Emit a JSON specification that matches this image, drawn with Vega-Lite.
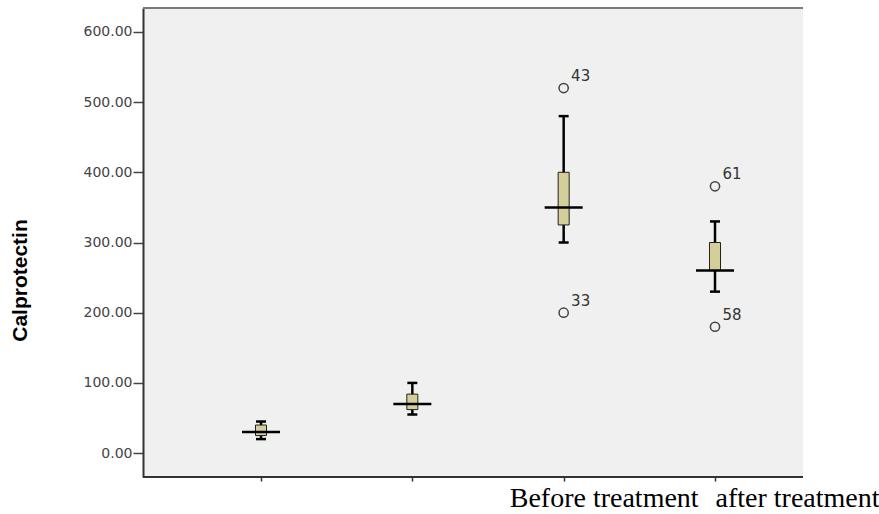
{
  "$schema": "https://vega.github.io/schema/vega-lite/v6.json",
  "width": 660,
  "height": 469,
  "autosize": "none",
  "padding": {"left": 143, "top": 8, "right": 76, "bottom": 37},
  "background": "white",
  "config": {
    "view": {"stroke": null, "fill": "#F0F0F0"}
  },
  "datasets": {
    "stats": [
      {"group": "Group A", "min": 20, "q1": 25, "median": 30, "q3": 40, "max": 45},
      {"group": "Group B", "min": 55, "q1": 62, "median": 70, "q3": 84, "max": 100},
      {"group": "Before treatment", "min": 300, "q1": 325, "median": 350, "q3": 400, "max": 480},
      {"group": "after treatment", "min": 230, "q1": 260, "median": 260, "q3": 300, "max": 330}
    ],
    "outliers": [
      {"group": "Before treatment", "value": 520, "case": "43"},
      {"group": "Before treatment", "value": 200, "case": "33"},
      {"group": "after treatment", "value": 380, "case": "61"},
      {"group": "after treatment", "value": 180, "case": "58"}
    ],
    "border": [{"top": 634, "bottom": -34}]
  },
  "encoding": {
    "x": {
      "field": "group",
      "type": "nominal",
      "sort": ["Group A", "Group B", "Before treatment", "after treatment"],
      "scale": {"type": "point", "domain": ["Group A", "Group B", "Before treatment", "after treatment"], "range": [118, 572], "padding": 0},
      "axis": {
        "title": null,
        "labelExpr": "datum.value == 'Group A' || datum.value == 'Group B' ? '' : datum.value",
        "labelAngle": 0,
        "labelFont": "Liberation Serif",
        "labelFontSize": 28,
        "labelColor": "#000000",
        "labelPadding": 3,
        "labelLimit": 0,
        "labelOverlap": false,
        "labelOffset": {"condition": {"test": "datum.value == 'Before treatment'", "value": 40}, "value": 82},
        "domain": false,
        "tickColor": "#333333",
        "tickSize": 4,
        "tickWidth": 1.5,
        "grid": false
      }
    }
  },
  "layer": [
    {
      "data": {"name": "border"},
      "mark": {"type": "rule", "color": "#7a7a7a", "strokeWidth": 2},
      "encoding": {"x": null, "y": {"field": "top", "type": "quantitative"}}
    },
    {
      "data": {"name": "border"},
      "mark": {"type": "rule", "color": "#333333", "strokeWidth": 2},
      "encoding": {"x": null, "y": {"field": "bottom", "type": "quantitative"}}
    },
    {
      "data": {"name": "stats"},
      "mark": {"type": "rule", "color": "#000000", "strokeWidth": 2.5},
      "encoding": {
        "y": {
          "field": "min",
          "type": "quantitative",
          "scale": {"domain": [-34, 634], "nice": false, "zero": false},
          "axis": {
            "title": "Calprotectin",
            "values": [0, 100, 200, 300, 400, 500, 600],
            "format": ".2f",
            "grid": false,
            "labelFont": "DejaVu Sans",
            "labelFontSize": 14,
            "labelColor": "#444444",
            "labelPadding": 1,
            "tickSize": 10,
            "tickColor": "#444444",
            "tickWidth": 1.5,
            "domainColor": "#333333",
            "domainWidth": 2,
            "titleFont": "Liberation Sans",
            "titleFontSize": 21,
            "titleFontWeight": "bold",
            "titleColor": "#000000",
            "titleX": -123,
            "titleY": 272,
            "titleAngle": -90,
            "titleAlign": "center",
            "titleBaseline": "middle"
          }
        },
        "y2": {"field": "max"}
      }
    },
    {
      "data": {"name": "stats"},
      "mark": {"type": "tick", "color": "#000000", "opacity": 1, "size": 10, "thickness": 2.5},
      "encoding": {"y": {"field": "min", "type": "quantitative"}}
    },
    {
      "data": {"name": "stats"},
      "mark": {"type": "tick", "color": "#000000", "opacity": 1, "size": 10, "thickness": 2.5},
      "encoding": {"y": {"field": "max", "type": "quantitative"}}
    },
    {
      "data": {"name": "stats"},
      "mark": {"type": "bar", "size": 11, "fill": "#D4CF98", "stroke": "#222222", "strokeWidth": 1, "opacity": 1},
      "encoding": {"y": {"field": "q1", "type": "quantitative"}, "y2": {"field": "q3"}}
    },
    {
      "data": {"name": "stats"},
      "mark": {"type": "tick", "color": "#000000", "opacity": 1, "size": 38, "thickness": 2.5},
      "encoding": {"y": {"field": "median", "type": "quantitative"}}
    },
    {
      "data": {"name": "outliers"},
      "mark": {"type": "point", "shape": "circle", "size": 85, "filled": false, "color": "#444444", "strokeWidth": 1.5, "opacity": 1},
      "encoding": {"y": {"field": "value", "type": "quantitative"}}
    },
    {
      "data": {"name": "outliers"},
      "mark": {"type": "text", "dx": 17, "dy": -12, "font": "DejaVu Sans", "fontSize": 15, "color": "#333333"},
      "encoding": {"y": {"field": "value", "type": "quantitative"}, "text": {"field": "case"}}
    }
  ]
}
